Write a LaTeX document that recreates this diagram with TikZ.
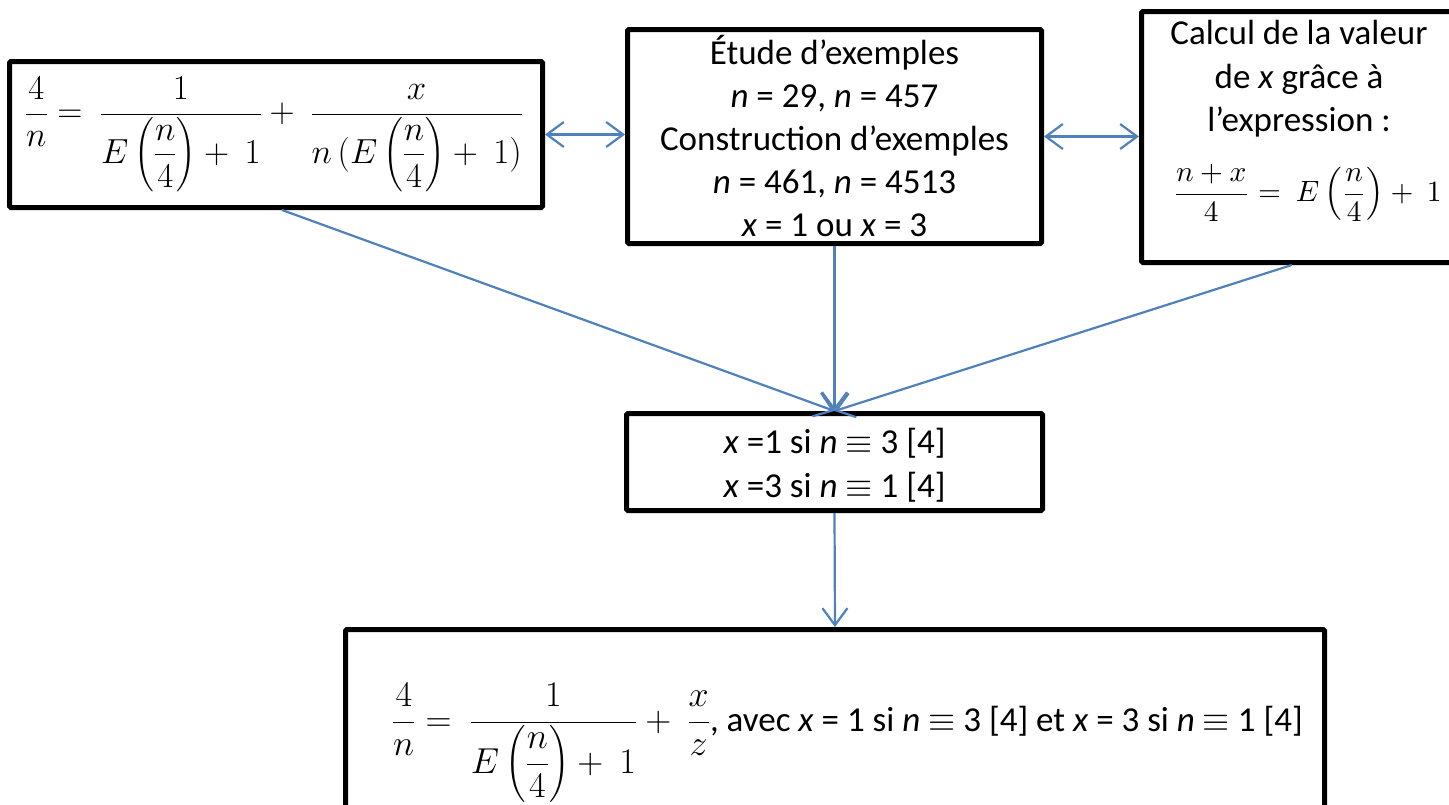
\RequirePackage{fix-cm}
\documentclass[tikz,border=0pt]{standalone}
\usepackage{amsmath}
\usepackage{graphicx}
\usepackage{fontspec}
\setmainfont{Carlito}
\usetikzlibrary{arrows.meta}
\definecolor{arrowblue}{HTML}{4F81BD}
\begin{document}
\begin{tikzpicture}[x=1pt,y=-1pt,
  box/.style={draw=black, line width=5pt, rounded corners=1.5pt, inner sep=0pt, outer sep=2.5pt,
    align=center, font=\fontsize{35}{44}\selectfont},
  txt/.style={inner sep=0pt, outer sep=0pt, align=center, font=\fontsize{35}{43.5}\selectfont},
  conn/.style={draw=arrowblue, line width=2.2pt, -{Straight Barb[length=17pt,width=25pt]}},
  biconn/.style={draw=arrowblue, line width=2.2pt,
    {Straight Barb[length=17pt,width=25pt]}-{Straight Barb[length=17pt,width=25pt]}}]
\useasboundingbox (0,0) rectangle (1449,804);
\clip (0,0) rectangle (1449,804);
\fill[white] (0,0) rectangle (1449,804);

% box A
\node[box, minimum width=533pt, minimum height=146pt] (A) at (276,134.5)
  {\resizebox{498pt}{!}{$\displaystyle \frac{4}{n} =\ \frac{1}{E\left(\dfrac{n}{4}\right) +\ 1} +\ \frac{x}{n\,(E\left(\dfrac{n}{4}\right) +\ 1)}$}\hspace*{4pt}};

% box B
\node[box, minimum width=414pt, minimum height=214pt, font=\fontsize{35}{43}\selectfont] (B) at (834.5,136.5)
  {Étude d’exemples\\ \textit{n} = 29, \textit{n} = 457\\ Construction d’exemples\\ \textit{n} = 461, \textit{n} = 4513\\ \textit{x} = 1 ou \textit{x} = 3};

% box C
\node[box, minimum width=328.5pt, minimum height=251pt] (C) at (1305.75,137) {};
\node[txt] (Ct) at (1299,79) {Calcul de la valeur\\ de \textit{x} grâce à\\ l’expression :};
\node[inner sep=0pt] (Cf) at (1307,193)
  {\resizebox{269pt}{!}{$\dfrac{n+x}{4} =\ E\left(\dfrac{n}{4}\right) +\ 1$}};

% box D
\node[box, minimum width=416pt, minimum height=97pt] (D) at (834.5,462)
  {\rule{0pt}{32pt}\textit{x} =1 si \textit{n} $\equiv$ 3 [4]\\ \textit{x} =3 si \textit{n} $\equiv$ 1 [4]};

% box E
\node[box, minimum width=979pt, minimum height=200.5pt] (E) at (835,729.75) {};
\node[txt, anchor=west] (Et) at (392,743)
  {\resizebox{318pt}{!}{$\dfrac{4}{n} =\ \dfrac{1}{E\left(\dfrac{n}{4}\right) +\ 1} +\ \dfrac{x}{z}$}, avec \textit{x} = 1 si \textit{n} $\equiv$ 3 [4] et \textit{x} = 3 si \textit{n} $\equiv$ 1 [4]};

% connectors
\draw[biconn] (A.east) -- (A.east -| B.west);
\draw[biconn] (B.east) -- (B.east -| C.west);
\draw[conn] ([xshift=6pt]A.south) -- (D.north);
\draw[conn] (B.south) -- (D.north);
\draw[conn] ([xshift=-14pt]C.south) -- (D.north);
\draw[conn] (D.south) -- (E.north);
\end{tikzpicture}
\end{document}
